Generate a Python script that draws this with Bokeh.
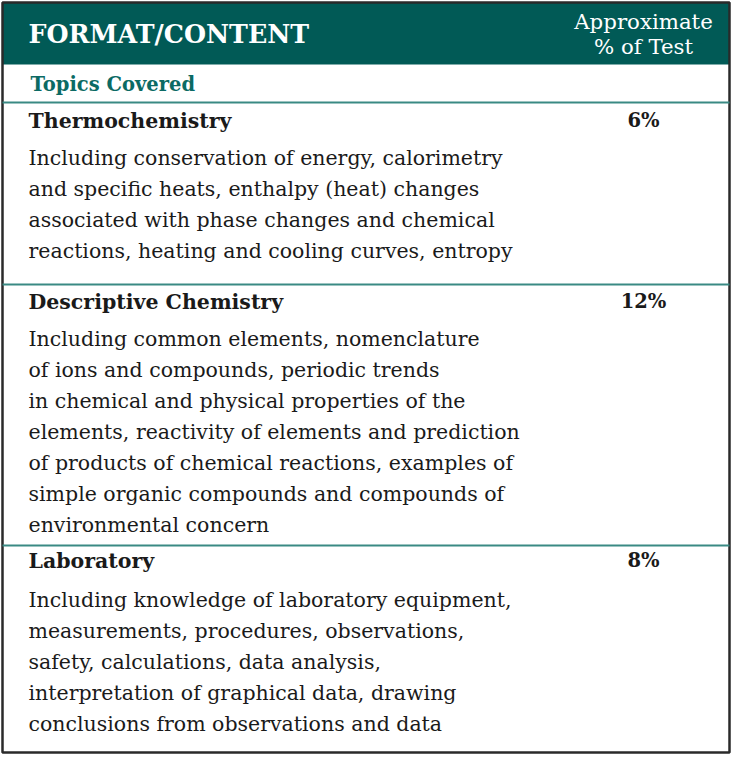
from bokeh.plotting import figure
from bokeh.models import ColumnDataSource, Range1d
from bokeh.core.properties import value
from bokeh.embed import file_html
from bokeh.resources import INLINE

# ---- data ----
header_left = "FORMAT/CONTENT"
header_right = ["Approximate", "% of Test"]
subheader = "Topics Covered"
topics = ["Thermochemistry", "Descriptive Chemistry", "Laboratory"]
percents = ["6%", "12%", "8%"]
descriptions = [
    ["Including conservation of energy, calorimetry",
     "and specific heats, enthalpy (heat) changes",
     "associated with phase changes and chemical",
     "reactions, heating and cooling curves, entropy"],
    ["Including common elements, nomenclature",
     "of ions and compounds, periodic trends",
     "in chemical and physical properties of the",
     "elements, reactivity of elements and prediction",
     "of products of chemical reactions, examples of",
     "simple organic compounds and compounds of",
     "environmental concern"],
    ["Including knowledge of laboratory equipment,",
     "measurements, procedures, observations,",
     "safety, calculations, data analysis,",
     "interpretation of graphical data, drawing",
     "conclusions from observations and data"],
]

# ---- layout (reference pixel space) ----
W, H = 732, 757
TEAL = "#015a56"
TEAL_TXT = "#0b6a64"
RULE = "#3a8a84"
BORDER = "#2a2a2a"
INK = "#1a1a1a"
SERIF = "DejaVu Serif"

p = figure(width=W, height=H, output_backend="svg", toolbar_location=None,
           x_range=Range1d(0, W), y_range=Range1d(H, 0))
p.axis.visible = False
p.grid.visible = False
p.outline_line_color = None
p.min_border = 0
p.background_fill_color = "white"

# header band
p.quad(left=[2], right=[729], top=[2], bottom=[64], fill_color=TEAL, line_color=None)
# outer border
p.quad(left=[2], right=[729], top=[2], bottom=[752], fill_color=None,
       line_color=BORDER, line_width=2.5)

p.text(x=[28], y=[33], text=[header_left], text_color="white",
       text_font=value(SERIF), text_font_style="bold", text_font_size="25.3px",
       text_baseline="middle", text_align="left")
p.text(x=[643, 643], y=[21, 46], text=header_right, text_color="white",
       text_font=value(SERIF), text_font_size="21.3px",
       text_baseline="middle", text_align="center")

p.text(x=[30], y=[84], text=[subheader], text_color=TEAL_TXT,
       text_font=value(SERIF), text_font_style="bold", text_font_size="19.5px",
       text_baseline="middle", text_align="left")
p.segment(x0=[2], x1=[729], y0=[102], y1=[102], line_color=RULE, line_width=2)

title_ys = [120, 301, 560]
body_offsets = [37, 37, 39]
divider_ys = [284, 545]
spacing = 31

tx, ty, tt = [], [], []
bx, by, bt = [], [], []
px, py, pt = [], [], []
for i, topic in enumerate(topics):
    tx.append(28); ty.append(title_ys[i]); tt.append(topic)
    px.append(643); py.append(title_ys[i]); pt.append(percents[i])
    for j, line in enumerate(descriptions[i]):
        bx.append(28); by.append(title_ys[i] + body_offsets[i] + j * spacing); bt.append(line)

p.text(x="x", y="y", text="t", source=ColumnDataSource(dict(x=tx, y=ty, t=tt)),
       text_color=INK, text_font=value(SERIF), text_font_style="bold",
       text_font_size="20.5px", text_baseline="middle", text_align="left")
p.text(x="x", y="y", text="t", source=ColumnDataSource(dict(x=px, y=py, t=pt)),
       text_color=INK, text_font=value(SERIF), text_font_style="bold",
       text_font_size="19.5px", text_baseline="middle", text_align="center")
p.text(x="x", y="y", text="t", source=ColumnDataSource(dict(x=bx, y=by, t=bt)),
       text_color=INK, text_font=value(SERIF),
       text_font_size="20.5px", text_baseline="middle", text_align="left")

p.segment(x0=[2] * len(divider_ys), x1=[729] * len(divider_ys),
          y0=divider_ys, y1=divider_ys, line_color=RULE, line_width=2)

open("out.html", "w").write(file_html(p, INLINE))
